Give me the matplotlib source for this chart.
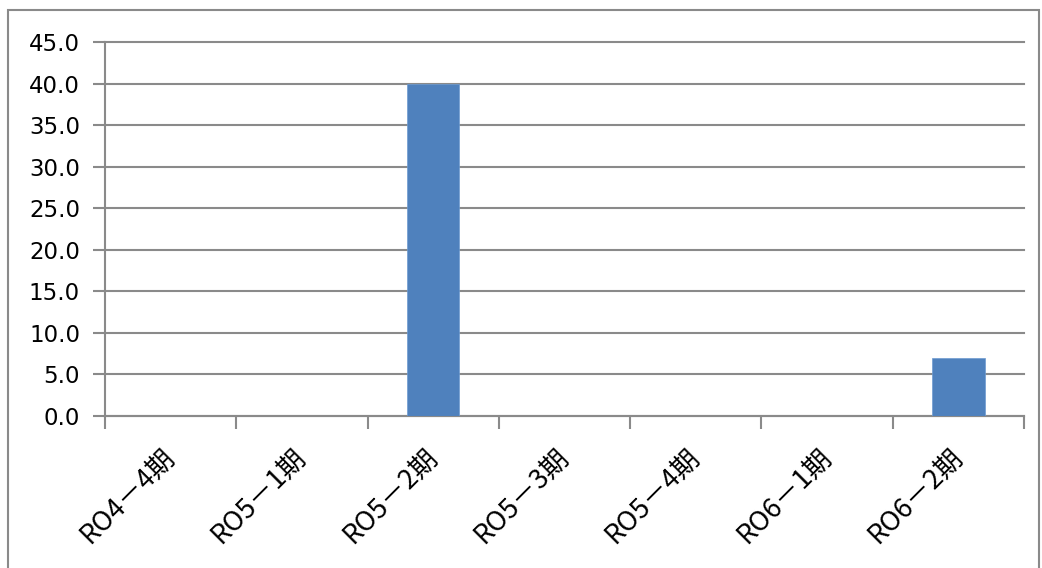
import matplotlib
matplotlib.use('Agg')
import matplotlib.pyplot as plt
from matplotlib.patches import Rectangle
from matplotlib.transforms import ScaledTranslation

# data
categories = ['RO4－4期', 'RO5－1期', 'RO5－2期', 'RO5－3期', 'RO5－4期', 'RO6－1期', 'RO6－2期']
values = [0.0, 0.0, 40.0, 0.0, 0.0, 0.0, 7.0]
yticks = [0, 5, 10, 15, 20, 25, 30, 35, 40, 45]

plt.rcParams['font.family'] = ['Noto Sans CJK JP', 'DejaVu Sans']

grey = '#8a8a8a'

fig = plt.figure(figsize=(10.42, 5.68), dpi=100)
ax = fig.add_axes([105 / 1042, 1 - 416 / 568, (1024 - 105) / 1042, (416 - 42) / 568])

# outer chart frame
fig.patches.append(Rectangle((8 / 1042, -0.01), (1039 - 8) / 1042, 1 - 10 / 568 + 0.01,
                             transform=fig.transFigure, fill=False,
                             edgecolor=grey, linewidth=1.5))

x = list(range(len(categories)))
ax.bar(x, values, width=0.4, color='#4f81bd', edgecolor='#6d9bd1', linewidth=0.5, zorder=3)

ax.set_xlim(-0.5, len(categories) - 0.5)
ax.set_ylim(0, 45)
ax.set_yticks(yticks)
ax.set_yticklabels([f'{v:.1f}' for v in yticks], fontsize=16.5, family='DejaVu Sans')
ax.yaxis.grid(True, color=grey, linewidth=1.5, zorder=0)
for gl in ax.get_ygridlines():
    gl.set_clip_on(False)

# category ticks on boundaries, labels on centres
ax.set_xticks([i - 0.5 for i in range(len(categories) + 1)])
ax.set_xticklabels([])
ax.set_xticks(x, minor=True)
ax.set_xticklabels(categories, minor=True, rotation=45, ha='right',
                   rotation_mode='anchor', fontsize=19.5)
ax.tick_params(axis='x', which='minor', length=0, pad=14)
ax.tick_params(axis='x', which='major', length=9, width=1.5, color=grey)
ax.tick_params(axis='y', length=9, width=1.5, color=grey, pad=9)

# nudge rotated labels down-left like the original
shift = ScaledTranslation(-7 / 72, -6 / 72, fig.dpi_scale_trans)
for lbl in ax.get_xticklabels(minor=True):
    lbl.set_transform(lbl.get_transform() + shift)

for side in ['top', 'right']:
    ax.spines[side].set_visible(False)
for side in ['left', 'bottom']:
    ax.spines[side].set_color(grey)
    ax.spines[side].set_linewidth(1.5)

fig.savefig('out.png', dpi=100)
